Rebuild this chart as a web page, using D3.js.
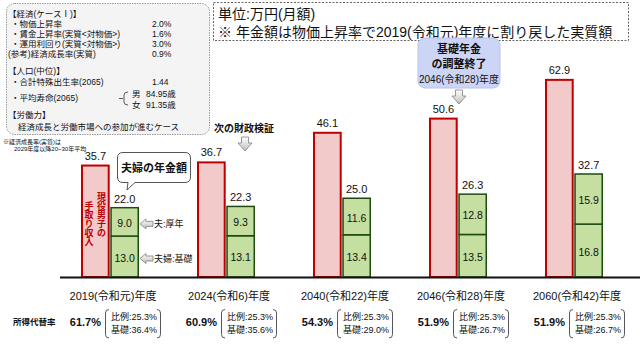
<!DOCTYPE html>
<html><head><meta charset="utf-8">
<script src="https://cdn.jsdelivr.net/npm/d3@7"></script>
<style>
body{margin:0;background:#fff;}
svg text{font-family:"Liberation Sans","Noto Sans CJK JP",sans-serif;fill:#111;}
</style></head><body>
<svg id="c" width="643" height="346"></svg>
<script>
// ---- data ----
const categories = ["2019(令和元)年度","2024(令和6)年度","2040(令和22)年度","2046(令和28)年度","2060(令和42)年度"];
const incomeValues = [35.7, 36.7, 46.1, 50.6, 62.9];
const koseiValues = [9.0, 9.3, 11.6, 12.8, 15.9];
const kisoValues = [13.0, 13.1, 13.4, 13.5, 16.8];
const pensionTotals = [22.0, 22.3, 25.0, 26.3, 32.7];
const replacementRates = [61.7, 60.9, 54.3, 51.9, 51.9];
const hireiRates = [25.3, 25.3, 25.3, 25.3, 25.3];
const kisoRates = [36.4, 35.6, 29.0, 26.7, 26.7];
const econLabels = ["・物価上昇率","・賃金上昇率(実質<対物価>)","・運用利回り(実質<対物価>)","(参考)経済成長率(実質)"];
const econValues = ["2.0%","1.6%","3.0%","0.9%"];

// ---- layout ----
const svg = d3.select("#c");
const baseY = 277;
const y = d3.scaleLinear().domain([0, 70]).range([baseY, 56.5]);
const x = d3.scaleBand().domain(categories).range([52, 632]);
const x1 = d3.scaleBand().domain(["income","pension"]).range([-29, 29]).paddingInner(0.02);
const cx = c => x(c) + x.bandwidth() / 2;

const defs = svg.append("defs");
const g1 = defs.append("linearGradient").attr("id","arrowGrad").attr("x1",0).attr("y1",0).attr("x2",0).attr("y2",1);
g1.append("stop").attr("offset","0%").attr("stop-color","#ffffff");
g1.append("stop").attr("offset","100%").attr("stop-color","#bdbdbd");

// ---- top-left assumptions box ----
svg.append("rect").attr("x",6.5).attr("y",3.5).attr("width",203).attr("height",131).attr("rx",8)
  .attr("fill","#f4f4f4").attr("stroke","#9a9a9a").attr("stroke-dasharray","1.5,1");
const tl = svg.append("g").style("font-size","8.5px");
tl.append("text").attr("x",8).attr("y",17).text("【経済(ケースⅠ)】");
econLabels.forEach((t,i)=>{
  tl.append("text").attr("x", i===3?8:11).attr("y",26.5+i*10).text(t);
  tl.append("text").attr("x",152).attr("y",26.5+i*10).text(econValues[i]);
});
tl.append("text").attr("x",8).attr("y",74).text("【人口(中位)】");
tl.append("text").attr("x",11).attr("y",85).text("・合計特殊出生率(2065)");
tl.append("text").attr("x",152).attr("y",85).text("1.44");
tl.append("text").attr("x",11).attr("y",101).text("・平均寿命(2065)");
tl.append("text").attr("x",132).attr("y",97).text("男");
tl.append("text").attr("x",146).attr("y",97).text("84.95歳");
tl.append("text").attr("x",132).attr("y",108).text("女");
tl.append("text").attr("x",146).attr("y",108).text("91.35歳");
svg.append("path").attr("d","M119,98.5 H123 M128,92 Q124,92 124,95 V102 Q124,105 128,105")
  .attr("fill","none").attr("stroke","#333").attr("stroke-width",0.8);
tl.append("text").attr("x",8).attr("y",118).text("【労働力】");
tl.append("text").attr("x",18).attr("y",130).text("経済成長と労働市場への参加が進むケース");
svg.append("text").attr("x",3).attr("y",144).style("font-size","6px").text("※経済成長率(実質)は");
svg.append("text").attr("x",14).attr("y",151).style("font-size","6px").text("2029年度以降20~30年平均");

// ---- top-right note box ----
svg.append("rect").attr("x",213.5).attr("y",2.5).attr("width",415).attr("height",38)
  .attr("fill","#fff").attr("stroke","#666").attr("stroke-dasharray","2,1.5");
svg.append("text").attr("x",218).attr("y",19).style("font-size","14px").text("単位:万円(月額)");
svg.append("text").attr("x",218).attr("y",36.5).style("font-size","14px").text("※  年金額は物価上昇率で2019(令和元)年度に割り戻した実質額");

// ---- bars ----
const bars = svg.append("g");
categories.forEach((c,i)=>{
  const c0 = cx(c);
  const xr = c0 + x1("income"), xg = c0 + x1("pension"), bw = x1.bandwidth();
  bars.append("rect").attr("x",xr+1).attr("width",bw-2)
    .attr("y",y(incomeValues[i])+1).attr("height",baseY - y(incomeValues[i]) - 1)
    .attr("fill","#f2caca").attr("stroke","#c00000").attr("stroke-width",2);
  const kTop = y(kisoValues[i]);
  const tTop = y(kisoValues[i] + koseiValues[i]);
  bars.append("rect").attr("x",xg+0.75).attr("width",bw-1.5)
    .attr("y",kTop).attr("height",baseY-kTop)
    .attr("fill","#c4dfa0").attr("stroke","#1e4a12").attr("stroke-width",1.5);
  bars.append("rect").attr("x",xg+0.75).attr("width",bw-1.5)
    .attr("y",tTop).attr("height",kTop-tTop)
    .attr("fill","#c4dfa0").attr("stroke","#1e4a12").attr("stroke-width",1.5);
  bars.append("text").attr("x",xr+bw/2).attr("y",y(incomeValues[i])-5).attr("text-anchor","middle")
    .style("font-size","11px").text(incomeValues[i].toFixed(1));
  bars.append("text").attr("x",xg+bw/2).attr("y",tTop-5).attr("text-anchor","middle")
    .style("font-size","11px").text(pensionTotals[i].toFixed(1));
  bars.append("text").attr("x",xg+bw/2).attr("y",(tTop+kTop)/2+1).attr("text-anchor","middle")
    .attr("dominant-baseline","central").style("font-size","10.5px").text(koseiValues[i].toFixed(1));
  bars.append("text").attr("x",xg+bw/2).attr("y",(kTop+baseY)/2+1).attr("text-anchor","middle")
    .attr("dominant-baseline","central").style("font-size","10.5px").text(kisoValues[i].toFixed(1));

  const r = svg.append("g");
  r.append("text").attr("x",c0-9).attr("y",326).attr("text-anchor","end")
    .style("font-size","11px").style("font-weight","bold").text(replacementRates[i].toFixed(1)+"%");
  r.append("path").attr("d",`M${c0-1},309.5 Q${c0-4.5},309.5 ${c0-4.5},313 V334.5 Q${c0-4.5},338 ${c0-1},338`)
    .attr("fill","none").attr("stroke","#444").attr("stroke-width",0.9);
  r.append("path").attr("d",`M${c0+47},309.5 Q${c0+50.5},309.5 ${c0+50.5},313 V334.5 Q${c0+50.5},338 ${c0+47},338`)
    .attr("fill","none").attr("stroke","#444").attr("stroke-width",0.9);
  r.append("text").attr("x",c0+1).attr("y",319.5).style("font-size","9px").text("比例:"+hireiRates[i].toFixed(1)+"%");
  r.append("text").attr("x",c0+1).attr("y",333).style("font-size","9px").text("基礎:"+kisoRates[i].toFixed(1)+"%");
});

// ---- x axis ----
svg.append("line").attr("x1",60).attr("x2",640).attr("y1",baseY+0.5).attr("y2",baseY+0.5)
  .attr("stroke","#111").attr("stroke-width",2);
const ax = svg.append("g").attr("transform",`translate(3,${baseY})`)
  .call(d3.axisBottom(x).tickSize(0).tickPadding(15));
ax.select(".domain").remove();
ax.selectAll("text").style("font-size","11px").attr("fill","#111")
  .style("font-family",'"Liberation Sans","Noto Sans CJK JP",sans-serif');

svg.append("text").attr("x",13).attr("y",325).style("font-size","8.5px").style("font-weight","bold").text("所得代替率");

// ---- vertical text in 2019 income bar ----
const c0 = cx(categories[0]);
const vt = svg.append("g").style("font-size","9px").style("font-weight","bold");
Array.from("現役男子の").forEach((ch,k)=>{
  vt.append("text").attr("x",c0-8.5).attr("y",197+k*9).attr("text-anchor","middle")
    .attr("dominant-baseline","central").style("fill","#c00000").text(ch);
});
Array.from("手取り収入").forEach((ch,k)=>{
  vt.append("text").attr("x",c0-21).attr("y",206+k*9).attr("text-anchor","middle")
    .attr("dominant-baseline","central").style("fill","#c00000").text(ch);
});

// ---- arrows ----
function leftArrow(tx, ty){
  svg.append("path").attr("d",`M${tx},${ty} l6,-5 v2.5 h7 v5 h-7 v2.5 z`)
    .attr("fill","url(#arrowGrad)").attr("stroke","#808080").attr("stroke-width",0.8);
}
function downArrow(tx, ty){
  svg.append("path").attr("d",`M${tx-3.5},${ty} h7 v6 h3.5 l-7,8 l-7,-8 h3.5 z`)
    .attr("fill","url(#arrowGrad)").attr("stroke","#808080").attr("stroke-width",0.8);
}
const gx = c0 + x1("pension") + x1.bandwidth();
const koseiMid = (y(kisoValues[0]+koseiValues[0]) + y(kisoValues[0]))/2 + 2;
const kisoMid = (y(kisoValues[0]) + baseY)/2 + 2;
leftArrow(gx+1, koseiMid);
leftArrow(gx+1, kisoMid);
svg.append("text").attr("x",gx+15).attr("y",koseiMid).attr("dominant-baseline","central").style("font-size","9px").text("夫:厚年");
svg.append("text").attr("x",gx+15).attr("y",kisoMid).attr("dominant-baseline","central").style("font-size","9px").text("夫婦:基礎");

// callout 夫婦の年金額
svg.append("path").attr("d","M123,152.5 H185 Q190.5,152.5 190.5,158 V177 Q190.5,182.5 185,182.5 H135 L127,190 L128,182.5 H123 Q117.5,182.5 117.5,177 V158 Q117.5,152.5 123,152.5 Z")
  .attr("fill","#fff").attr("stroke","#555").attr("stroke-width",1);
svg.append("text").attr("x",154).attr("y",168).attr("text-anchor","middle").attr("dominant-baseline","central")
  .style("font-size","11px").style("font-weight","bold").text("夫婦の年金額");

// 次の財政検証
svg.append("text").attr("x",244).attr("y",132).attr("text-anchor","middle").style("font-size","10px").style("font-weight","bold").text("次の財政検証");
downArrow(245, 137);

// 基礎年金の調整終了
const c3 = cx(categories[3]);
svg.append("rect").attr("x",c3-40).attr("y",38).attr("width",82).attr("height",50).attr("rx",7)
  .attr("fill","#cdd5f6").attr("stroke","#b8c2ee");
svg.append("text").attr("x",c3+1).attr("y",53).attr("text-anchor","middle").style("font-size","11px").style("font-weight","bold").text("基礎年金");
svg.append("text").attr("x",c3+1).attr("y",68).attr("text-anchor","middle").style("font-size","11px").style("font-weight","bold").text("の調整終了");
svg.append("text").attr("x",c3+1).attr("y",83).attr("text-anchor","middle").style("font-size","10px").text("2046(令和28)年度");
downArrow(c3+1, 90);
</script>
</body></html>
